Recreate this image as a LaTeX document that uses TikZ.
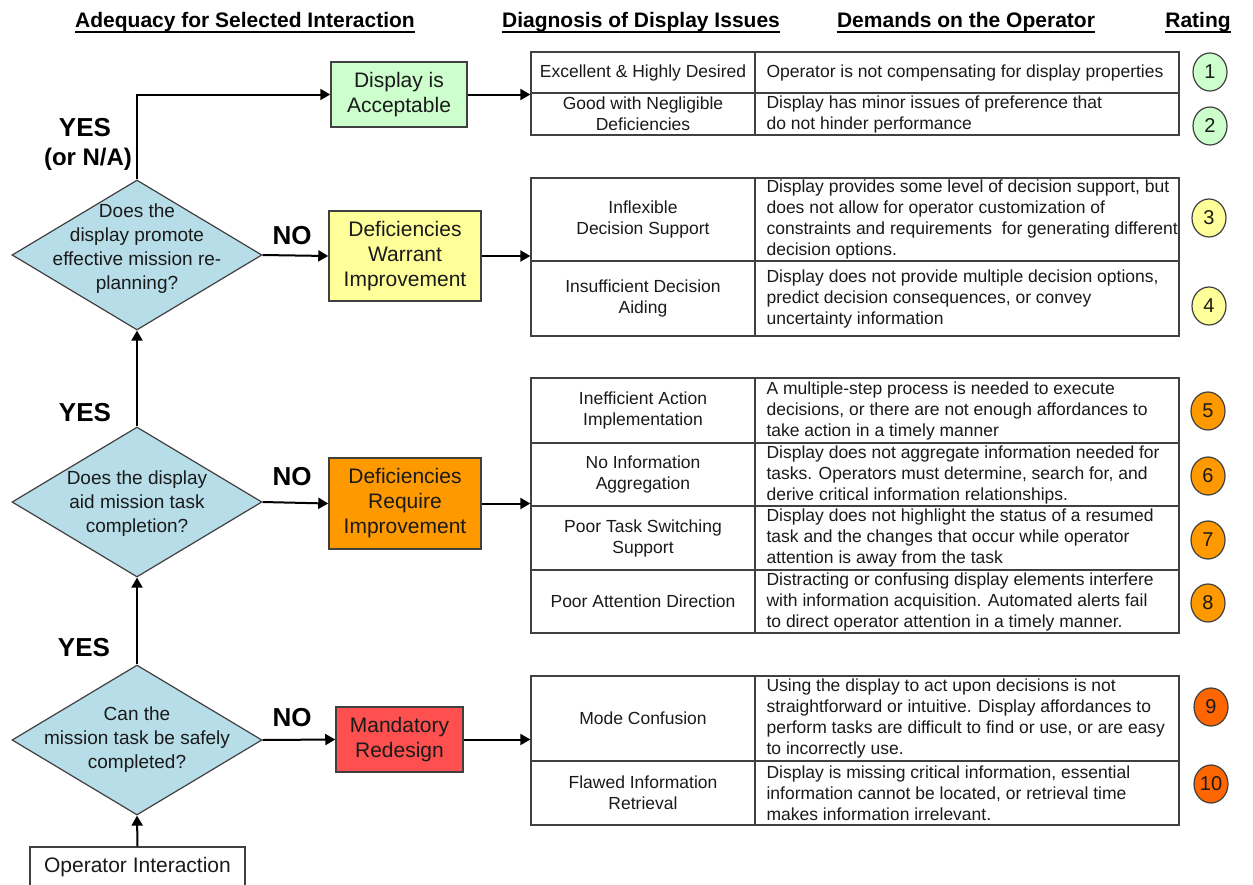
\documentclass[tikz,border=0pt]{standalone}
\usepackage{fontspec}
\setmainfont{Liberation Sans}
\usetikzlibrary{shapes.geometric,arrows.meta}
\definecolor{diafill}{HTML}{B7DDE8}
\definecolor{gfill}{HTML}{CCFFCC}
\definecolor{yfill}{HTML}{FFFF99}
\definecolor{ofill}{HTML}{FF9900}
\definecolor{rfill}{HTML}{FF5050}
\definecolor{dofill}{HTML}{FF6600}
\definecolor{edge}{HTML}{404040}
\definecolor{txt}{HTML}{1A1A1A}
\begin{document}
\begin{tikzpicture}[x=1pt,y=-1pt,
  hdr/.style={font=\bfseries\fontsize{21}{25}\selectfont, inner sep=0pt, anchor=base, text=black},
  dia/.style={diamond, draw=edge, fill=diafill, line width=1.2pt, minimum width=250pt, minimum height=150pt, inner sep=0pt},
  dtext/.style={align=center, font=\fontsize{19}{24}\selectfont, text=txt, inner sep=0pt},
  boxs/.style={draw=edge, line width=1.5pt, align=center, font=\fontsize{21}{25}\selectfont, inner sep=0pt, text=txt},
  cellL/.style={draw=edge, line width=1.3pt, minimum width=224pt, inner sep=0pt, align=center, font=\fontsize{17.5}{21}\selectfont, text=txt},
  cellR/.style={draw=edge, line width=1.3pt, minimum width=424pt, inner sep=0pt},
  rt/.style={anchor=west, align=left, inner sep=0pt, font=\fontsize{17.5}{21}\selectfont, text=txt},
  yn/.style={font=\bfseries\fontsize{26}{30}\selectfont, inner sep=0pt, text=black},
  rate/.style={ellipse, draw=edge, line width=1.2pt, minimum width=34pt, minimum height=38pt, inner sep=0pt, font=\fontsize{20}{24}\selectfont, text=txt},
  arr/.style={-{Triangle[length=10pt,width=11pt]}, line width=2pt, draw=black}
]
\useasboundingbox (0,0) rectangle (1253,884);
\fill[white] (0,0) rectangle (1253,884);

% headers
\node[hdr] (h1) at (245,27) {Adequacy for Selected Interaction};
\node[hdr] (h2) at (641,27) {Diagnosis of Display Issues};
\node[hdr] (h3) at (966,27) {Demands on the Operator};
\node[hdr] (h4) at (1198,27) {Rating};
\foreach \h in {h1,h2,h3,h4}{
  \draw[line width=1.8pt] ([yshift=-5pt]\h.base west) -- ([yshift=-5pt]\h.base east);
}

% diamonds
\node[dia] (d1) at (137,255) {};
\node[dtext] (d1t) at (137,249) {Does the\\display promote\\effective mission re-\\planning?};
\node[dia] (d2) at (137,502) {};
\node[dtext] (d2t) at (137,504) {Does the display\\aid mission task\\completion?};
\node[dia] (d3) at (137,740) {};
\node[dtext] (d3t) at (137,740) {Can the\\mission task be safely\\completed?};

% operator interaction
\node[draw=edge, line width=1.3pt, minimum width=215pt, minimum height=40pt, inner sep=0pt, font=\fontsize{21}{25}\selectfont, text=txt] (op) at (137.5,867) {Operator Interaction};

% boxes
\node[boxs, fill=gfill, minimum width=136pt, minimum height=65pt] (acc) at (399,94.5) {Display is\\Acceptable};
\node[boxs, fill=yfill, minimum width=152pt, minimum height=90pt] (warr) at (405,256) {Deficiencies\\Warrant\\Improvement};
\node[boxs, fill=ofill, minimum width=152pt, minimum height=91pt] (req) at (405,503.5) {Deficiencies\\Require\\Improvement};
\node[boxs, fill=rfill, minimum width=127pt, minimum height=65pt] (mand) at (399.5,739.5) {Mandatory\\Redesign};

% YES / NO labels
\node[yn] (y1) at (85,128) {YES};
\node[yn, font=\bfseries\fontsize{24}{28}\selectfont] (y1b) at (88,159) {(or N/A)};
\node[yn] (y2) at (85,413) {YES};
\node[yn] (y3) at (84,648) {YES};
\node[yn] (n1) at (292,236) {NO};
\node[yn] (n2) at (292,477) {NO};
\node[yn] (n3) at (292,718) {NO};

% table 1
\node[cellL, minimum height=41pt] (t1a) at (643,72.5) {Excellent \& Highly Desired};
\node[cellR, minimum height=41pt] (t1aR) at (967,72.5) {};
\node[rt] (t1aT) at ([xshift=12pt]t1aR.west) {Operator is not compensating for display properties};
\node[cellL, minimum height=42pt] (t1b) at (643,114) {Good with Negligible\\Deficiencies};
\node[cellR, minimum height=42pt] (t1bR) at (967,114) {};
\node[rt] (t1bT) at ([xshift=12pt]t1bR.west) {Display has minor issues of preference that\\ do not hinder performance};

% table 2
\node[cellL, minimum height=83pt] (t2a) at (643,219.5) {Inflexible\\Decision Support};
\node[cellR, minimum height=83pt] (t2aR) at (967,219.5) {};
\node[rt] (t2aT) at ([xshift=12pt]t2aR.west) {Display provides some level of decision support, but\\does not allow for operator customization of\\constraints and requirements\ \ for generating different\\decision options.};
\node[cellL, minimum height=75pt] (t2b) at (643,298.5) {Insufficient Decision\\Aiding};
\node[cellR, minimum height=75pt] (t2bR) at (967,298.5) {};
\node[rt] (t2bT) at ([xshift=12pt]t2bR.west) {Display does not provide multiple decision options,\\predict decision consequences, or convey\\uncertainty information};

% table 3
\node[cellL, minimum height=65pt] (t3a) at (643,410.5) {Inefficient Action\\Implementation};
\node[cellR, minimum height=65pt] (t3aR) at (967,410.5) {};
\node[rt] (t3aT) at ([xshift=12pt]t3aR.west) {A multiple-step process is needed to execute\\decisions, or there are not enough affordances to\\take action in a timely manner};
\node[cellL, minimum height=63pt] (t3b) at (643,474.5) {No Information\\Aggregation};
\node[cellR, minimum height=63pt] (t3bR) at (967,474.5) {};
\node[rt] (t3bT) at ([xshift=12pt]t3bR.west) {Display does not aggregate information needed for\\tasks. Operators must determine, search for, and\\derive critical information relationships.};
\node[cellL, minimum height=64pt] (t3c) at (643,538) {Poor Task Switching\\Support};
\node[cellR, minimum height=64pt] (t3cR) at (967,538) {};
\node[rt] (t3cT) at ([xshift=12pt]t3cR.west) {Display does not highlight the status of a resumed\\task and the changes that occur while operator\\attention is away from the task};
\node[cellL, minimum height=63pt] (t3d) at (643,601.5) {Poor Attention Direction};
\node[cellR, minimum height=63pt] (t3dR) at (967,601.5) {};
\node[rt] (t3dT) at ([xshift=12pt]t3dR.west) {Distracting or confusing display elements interfere\\with information acquisition. Automated alerts fail\\to direct operator attention in a timely manner.};

% table 4
\node[cellL, minimum height=85pt] (t4a) at (643,718.5) {Mode Confusion};
\node[cellR, minimum height=85pt] (t4aR) at (967,718.5) {};
\node[rt] (t4aT) at ([xshift=12pt]t4aR.west) {Using the display to act upon decisions is not\\straightforward or intuitive. Display affordances to\\perform tasks are difficult to find or use, or are easy\\to incorrectly use.};
\node[cellL, minimum height=64pt] (t4b) at (643,793) {Flawed Information\\Retrieval};
\node[cellR, minimum height=64pt] (t4bR) at (967,793) {};
\node[rt] (t4bT) at ([xshift=12pt]t4bR.west) {Display is missing critical information, essential\\information cannot be located, or retrieval time\\makes information irrelevant.};

% ratings
\node[rate, fill=gfill] (r1) at (1210,72) {1};
\node[rate, fill=gfill] (r2) at (1210,126) {2};
\node[rate, fill=yfill] (r3) at (1209,218) {3};
\node[rate, fill=yfill] (r4) at (1209,306) {4};
\node[rate, fill=ofill] (r5) at (1208,411) {5};
\node[rate, fill=ofill] (r6) at (1208,476) {6};
\node[rate, fill=ofill] (r7) at (1208,540) {7};
\node[rate, fill=ofill] (r8) at (1208,603) {8};
\node[rate, fill=dofill] (r9) at (1211,707) {9};
\node[rate, fill=dofill] (r10) at (1211,784) {10};

% connectors
\draw[arr] (op.north) -- (d3.south);
\draw[arr] (d3.north) -- (d2.south);
\draw[arr] (d2.north) -- (d1.south);
\draw[arr] (d1.north) |- (acc.west);
\draw[arr] (acc.east) -- (acc.east -| t1a.west);
\draw[arr] (d1.east) -- (warr.west);
\draw[arr] (warr.east) -- (warr.east -| t2a.west);
\draw[arr] (d2.east) -- (req.west);
\draw[arr] (req.east) -- (req.east -| t3a.west);
\draw[arr] (d3.east) -- (mand.west);
\draw[arr] (mand.east) -- (mand.east -| t4a.west);
\end{tikzpicture}
\end{document}
